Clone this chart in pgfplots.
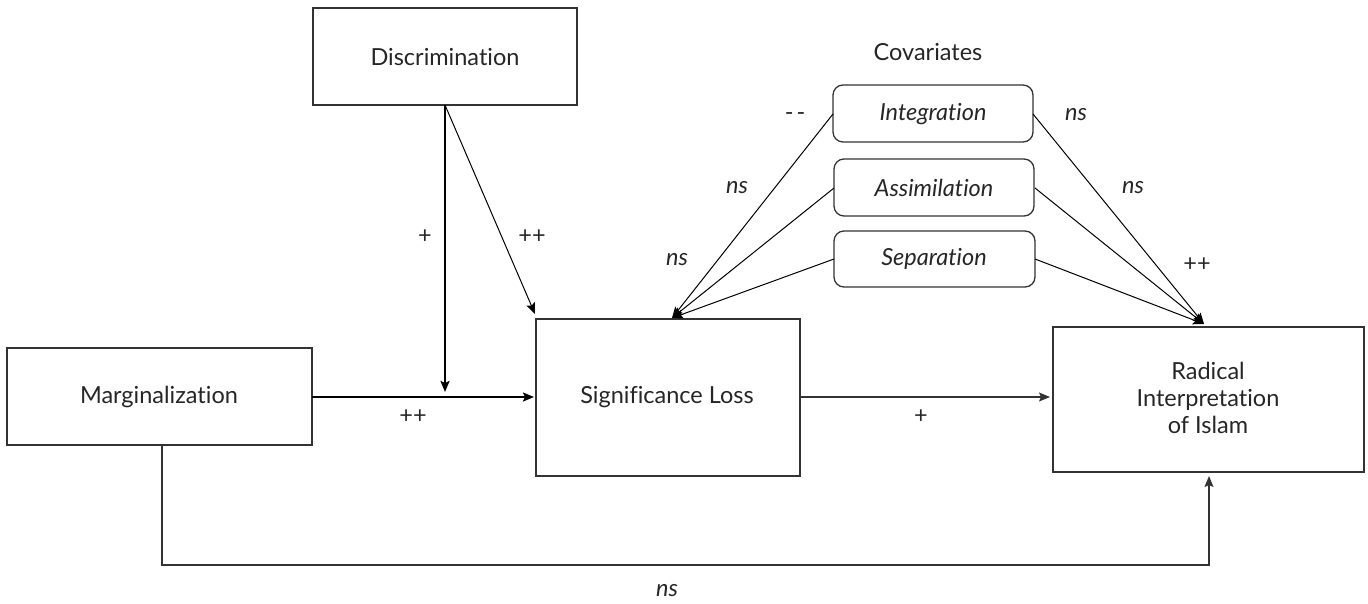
\documentclass[border=0pt]{standalone}
\usepackage{fontspec}
\setmainfont{Lato}[Ligatures={NoCommon}]
\usepackage{pgfplots}
\pgfplotsset{compat=1.18}
\usetikzlibrary{arrows.meta}
\definecolor{txt}{HTML}{262626}
\definecolor{bord}{HTML}{333333}
\begin{document}
\begin{tikzpicture}
\begin{axis}[
  scale only axis, width=1368pt, height=604pt,
  xmin=0, xmax=1368, ymin=0, ymax=604, y dir=reverse,
  hide axis, clip=false,
  every axis plot/.append style={no marks},
]
% ---- invisible frame to fix the bounding box ----
\addplot[draw=none] coordinates {(0,0)(1368,604)};
% ---- boxes ----
\addplot[bord, line width=1.3pt] coordinates {(445,8)(577,8)(577,105)(313,105)(313,8)(445,8)};
\addplot[bord, line width=1.3pt] coordinates {(160,348)(312,348)(312,445)(7,445)(7,348)(160,348)};
\addplot[bord, line width=1.3pt] coordinates {(668,319)(800,319)(800,476)(536,476)(536,319)(668,319)};
\addplot[bord, line width=1.3pt] coordinates {(1208,327)(1364,327)(1364,472)(1053,472)(1053,327)(1208,327)};
\addplot[bord, line width=1.3pt, rounded corners=10pt] coordinates {(933,85)(1033,85)(1033,142)(833,142)(833,85)(933,85)};
\addplot[bord, line width=1.3pt, rounded corners=10pt] coordinates {(934,159)(1034,159)(1034,216)(834,216)(834,159)(934,159)};
\addplot[bord, line width=1.3pt, rounded corners=10pt] coordinates {(934,231)(1035,231)(1035,287)(834,287)(834,231)(934,231)};
% ---- arrows ----
\addplot[black, line width=2pt, -{Stealth[length=11pt,width=9pt,inset=2pt]}] coordinates {(445,105)(445,392)};
\addplot[black, line width=1pt, -{Stealth[length=11pt,width=9pt,inset=2pt]}] coordinates {(445,105)(535,314)};
\addplot[black, line width=2pt, -{Stealth[length=11pt,width=9pt,inset=2pt]}] coordinates {(312,397)(534,397)};
\addplot[bord, line width=1.3pt, -{Stealth[length=11pt,width=9pt,inset=2pt]}] coordinates {(800,397)(1050,397)};
\addplot[bord, line width=1.3pt, -{Stealth[length=11pt,width=9pt,inset=2pt]}] coordinates {(162,445)(162,565)(1209,565)(1209,476)};
\addplot[black, line width=1pt, -{Stealth[length=11pt,width=9pt,inset=2pt]}] coordinates {(833,114)(672,318)};
\addplot[black, line width=1pt, -{Stealth[length=11pt,width=9pt,inset=2pt]}] coordinates {(834,188)(672,318)};
\addplot[black, line width=1pt, -{Stealth[length=11pt,width=9pt,inset=2pt]}] coordinates {(834,259)(672,318)};
\addplot[black, line width=1pt, -{Stealth[length=11pt,width=9pt,inset=2pt]}] coordinates {(1033,114)(1204,324)};
\addplot[black, line width=1pt, -{Stealth[length=11pt,width=9pt,inset=2pt]}] coordinates {(1035,188)(1204,324)};
\addplot[black, line width=1pt, -{Stealth[length=11pt,width=9pt,inset=2pt]}] coordinates {(1035,259)(1204,324)};
% ---- texts ----
\begin{scope}[every node/.style={text=txt, font=\fontsize{23.5}{27}\selectfont, inner sep=0pt}]
\node at (axis cs:445,57) {Discrimination};
\node at (axis cs:159,397) {Marginalization};
\node at (axis cs:667,397) {Significance Loss};
\node[align=center] at (axis cs:1208,398) {Radical\\Interpretation\\of Islam};
\node at (axis cs:928,52) {Covariates};
\node at (axis cs:933,114) {\itshape Integration};
\node at (axis cs:934,188) {\itshape Assimilation};
\node at (axis cs:934,259) {\itshape Separation};
\node at (axis cs:425,237) {+};
\node at (axis cs:532,237) {++};
\node at (axis cs:413,417) {++};
\node at (axis cs:921,417) {+};
\node at (axis cs:667,591) {\itshape ns};
\node at (axis cs:795,117) {-\kern3pt-};
\node at (axis cs:737,188) {\itshape ns};
\node at (axis cs:677,260) {\itshape ns};
\node at (axis cs:1076,115) {\itshape ns};
\node at (axis cs:1133,188) {\itshape ns};
\node at (axis cs:1197,265) {++};
\end{scope}
\end{axis}
\end{tikzpicture}
\end{document}
